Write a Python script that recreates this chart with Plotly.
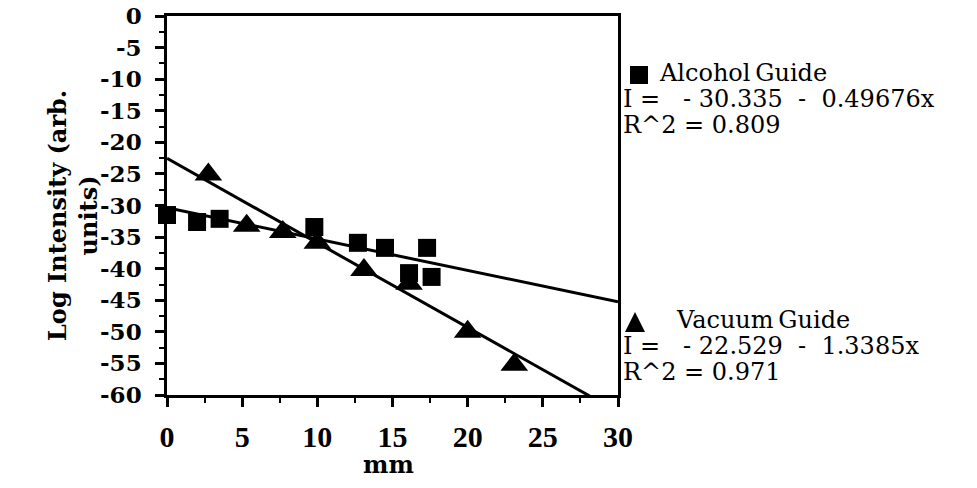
import plotly.graph_objects as go

# ---- data ----
alcohol_x = [0.0, 2.0, 3.5, 9.8, 12.7, 14.5, 16.1, 17.3, 17.6]
alcohol_y = [-31.5, -32.6, -32.1, -33.4, -35.9, -36.7, -40.7, -36.7, -41.3]

vacuum_x = [2.75, 5.3, 7.7, 10.0, 13.1, 16.1, 20.0, 23.1]
vacuum_y = [-25.1, -33.2, -34.2, -35.9, -40.2, -42.4, -50.0, -55.2]

# regression coefficients printed on the chart
alcohol_fit = (-30.335, -0.49676, 0.809)
vacuum_fit = (-22.529, -1.3385, 0.971)
fit_x = [0, 30]

x_ticks = [0, 5, 10, 15, 20, 25, 30]
x_ticktext = ["0", "5", "10", "15", "20", "25", "30"]
y_ticks = [0, -5, -10, -15, -20, -25, -30, -35, -40, -45, -50, -55, -60]
y_ticktext = ["0", "-5", "-10", "-15", "-20", "-25", "-30", "-35", "-40", "-45", "-50", "-55", "-60"]

# ---- layout geometry (screen pixels; body margin removed below) ----
W, H = 977, 488
L, R, T, B = 167, 618, 16, 395
PW, PH = R - L, B - T


def px(x):
    return (x - L) / PW


def py(y):
    return (B - y) / PH


serif = "Liberation Serif"
wide = "DejaVu Serif"

fig = go.Figure()

for (a, b, _r2) in (alcohol_fit, vacuum_fit):
    fig.add_trace(go.Scatter(
        x=fit_x, y=[a + b * v for v in fit_x], mode="lines",
        line=dict(color="black", width=3), showlegend=False, hoverinfo="skip"))

fig.add_trace(go.Scatter(
    x=alcohol_x, y=alcohol_y, mode="markers", name="AlcoholGuide",
    marker=dict(symbol="square", size=18, color="black"), showlegend=False,
    cliponaxis=False))
fig.add_trace(go.Scatter(
    x=vacuum_x, y=vacuum_y, mode="markers", name="VacuumGuide",
    marker=dict(symbol="triangle-up", size=24, color="black"), showlegend=False,
    cliponaxis=False))

annotations = []


def text(x, y, s, size=24, family=wide, anchor="left", angle=0, bold=False):
    annotations.append(dict(
        x=px(x), y=py(y), xref="paper", yref="paper", text=s, showarrow=False,
        xanchor=anchor, yanchor="middle", textangle=angle,
        font=dict(family=family, size=size, color="black",
                  weight="bold" if bold else "normal")))


NB = "\u00a0"
text(657, 73, "Alcohol\u2009Guide", size=24)
text(621, 99, "I =" + NB * 3 + "- 30.335" + NB * 2 + "-" + NB * 2 + "0.49676x")
text(621, 125, "R^2 = 0.809")
text(674, 320, "Vacuum\u2009Guide", size=24)
text(621, 346, "I =" + NB * 3 + "- 22.529" + NB * 2 + "-" + NB * 2 + "1.3385x")
text(621, 372, "R^2 = 0.971")

# axis titles
text(73, 216, "Log Intensity (arb.<br>units)", size=24, anchor="center", angle=-90, bold=True)
text(388, 464, "mm", size=24, anchor="center", bold=True)

# legend symbols
shapes = [
    dict(type="rect", xref="paper", yref="paper",
         x0=px(630), x1=px(648), y0=py(84), y1=py(66),
         fillcolor="black", line=dict(width=0)),
    dict(type="path", xref="paper", yref="paper",
         path=f"M {px(625)},{py(332)} L {px(645)},{py(332)} L {px(635)},{py(312)} Z",
         fillcolor="black", line=dict(width=0)),
]

fig.update_layout(
    width=W, height=H,
    margin=dict(l=L, r=W - R, t=T, b=H - B),
    paper_bgcolor="white", plot_bgcolor="white",
    annotations=annotations, shapes=shapes,
    xaxis=dict(
        range=[0, 30], tickvals=x_ticks, ticktext=x_ticktext, automargin=False,
        showgrid=False, zeroline=False, showline=True, linecolor="black", linewidth=2.5,
        mirror=True, ticks="outside", ticklen=9, tickwidth=2.5, tickcolor="black",
        minor=dict(dtick=2.5, ticks="outside", ticklen=5, tickwidth=2, tickcolor="black"),
        tickfont=dict(family=serif, size=30, color="black", weight="bold"),
        ticklabelstandoff=4, ticklabeloverflow="allow",
    ),
    yaxis=dict(
        range=[-60, 0.02], tickvals=y_ticks, ticktext=y_ticktext, automargin=False,
        showgrid=False, zeroline=False, showline=True, linecolor="black", linewidth=2.5,
        mirror=True, ticks="outside", ticklen=9, tickwidth=2.5, tickcolor="black",
        minor=dict(dtick=2.5, ticks="outside", ticklen=5, tickwidth=2, tickcolor="black"),
        tickfont=dict(family=wide, size=23, color="black", weight="bold"),
        ticklabelstandoff=9, ticklabeloverflow="allow",
    ),
)

fig.write_html(
    "out.html",
    config={"displayModeBar": False},
    post_script="document.body.style.margin='0px';document.body.style.overflow='hidden';",
)
